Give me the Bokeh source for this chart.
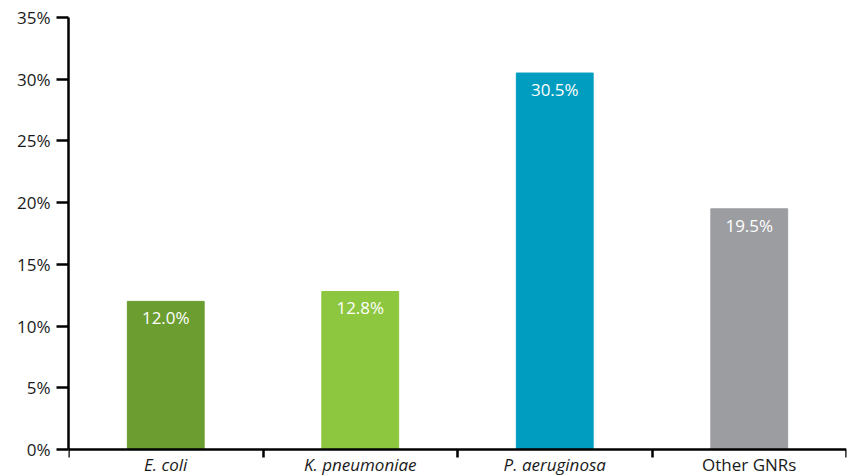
from bokeh.plotting import figure
from bokeh.models import FixedTicker, LabelSet, ColumnDataSource, Range1d
from bokeh.core.properties import value
from bokeh.embed import file_html
from bokeh.resources import INLINE

# ---- data ----
categories = ["E. coli", "K. pneumoniae", "P. aeruginosa", "Other GNRs"]
category_styles = ["italic", "italic", "italic", "normal"]
values = [12.0, 12.8, 30.5, 19.5]
value_labels = ["12.0%", "12.8%", "30.5%", "19.5%"]
colors = ["#6b9d30", "#8dc63f", "#009dc0", "#9c9da1"]
y_ticks = [0, 5, 10, 15, 20, 25, 30, 35]
y_tick_labels = ["0%", "5%", "10%", "15%", "20%", "25%", "30%", "35%"]

FONT = "Open Sans"
TEXT = "#1a1a1a"
Y_MIN, Y_MAX = -2.19, 35   # frame runs below 0 to hold the category names
NAME_Y = -1.25             # vertical spot of the category names (below the axis)

n = len(categories)
centers = [i + 0.5 for i in range(n)]
bounds = list(range(n + 1))

p = figure(width=853, height=476, x_range=Range1d(0, n), y_range=Range1d(Y_MIN, Y_MAX),
           output_backend="svg", toolbar_location=None, x_axis_location="above",
           min_border_left=68, min_border_right=7, min_border_top=17,
           min_border_bottom=0)
p.outline_line_color = None
p.xgrid.visible = False
p.ygrid.visible = False

src = ColumnDataSource(dict(x=centers, top=values, color=colors, vl=value_labels,
                            cat=categories, style=category_styles))
p.vbar(x="x", top="top", width=0.395, color="color", source=src)

# y axis, drawn only from 0 % to 35 %
ya = p.yaxis[0]
ya.bounds = (0, Y_MAX)
ya.ticker = FixedTicker(ticks=y_ticks)
ya.major_label_overrides = {t: l for t, l in zip(y_ticks, y_tick_labels)}
ya.axis_line_width = 2.5
ya.axis_line_color = "black"
ya.major_tick_line_width = 2.5
ya.major_tick_line_color = "black"
ya.major_tick_in = 0
ya.major_tick_out = 12
ya.minor_tick_line_color = None
ya.major_label_standoff = 6
ya.major_label_text_font = FONT
ya.major_label_text_font_size = "17px"
ya.major_label_text_color = TEXT

# x axis fixed at y = 0, ticks at category boundaries pointing down
xa = p.xaxis[0]
xa.fixed_location = 0
xa.ticker = FixedTicker(ticks=bounds)
xa.major_label_overrides = {b: "" for b in bounds}
xa.axis_line_width = 2.5
xa.axis_line_color = "black"
xa.major_tick_line_width = 2.5
xa.major_tick_line_color = "black"
xa.major_tick_in = 8
xa.major_tick_out = 0
xa.minor_tick_line_color = None
xa.major_label_standoff = 0
xa.major_label_text_font_size = "1px"

# category names under the axis
p.text(x="x", y=NAME_Y, text="cat", source=src, text_align="center",
       text_baseline="alphabetic", text_font=value(FONT), text_font_size=value("17px"),
       text_font_style="style", text_color=TEXT)

# value labels inside bars
val_labels = LabelSet(x="x", y="top", text="vl", source=src, y_offset=-23,
                      text_align="center", text_baseline="alphabetic",
                      text_font=value(FONT), text_font_size=value("17px"),
                      text_color="white")
p.add_layout(val_labels)

open("out.html", "w").write(file_html(p, INLINE))
